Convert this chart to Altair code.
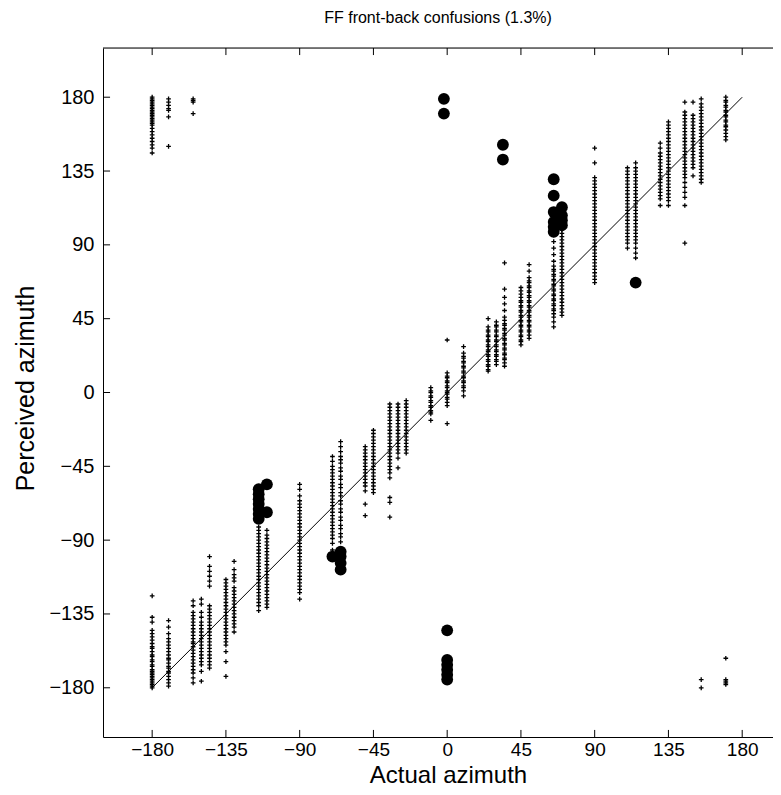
import altair as alt
import pandas as pd

# ---- data ----
tick_vals = [-180, -135, -90, -45, 0, 45, 90, 135, 180]

az_m180 = [-124, -137, -140, -145, -147, -149, -151, -153, -155, -156, -158, -160, -161, -163, -164, -166, -167,
           -169, -170, -171, -172, -173, -174, -175, -176, -177, -178, -179, -180,
           180, 179, 178, 177, 176, 175, 174, 173, 172, 171, 170, 169, 168, 167, 166, 165, 164, 163, 161, 159,
           157, 155, 153, 151, 149, 146]
az_m170 = [-139, -143, -147, -150, -152, -154, -156, -158, -160, -162, -163, -165, -167, -168, -170, -171, -173,
           -175, -177, -179, 179, 177, 175, 173, 172, 168, 150]
az_m155 = [-127, -130, -134, -136, -138, -140, -142, -144, -146, -148, -150, -152, -153, -155, -157, -159, -161,
           -163, -165, -167, -169, -171, -174, -177, 179, 178, 177, 170]
az_m150 = [-126, -129, -134, -137, -140, -142, -144, -146, -148, -150, -152, -154, -156, -158, -160, -162, -164,
           -166, -170, -176]
az_m145 = [-100, -106, -109, -112, -115, -118, -130, -132, -134, -136, -138, -140, -142, -144, -146, -148, -150,
           -152, -154, -156, -158, -160, -162, -164, -166, -168]
az_m135 = [-114, -116, -118, -120, -122, -124, -126, -128, -130, -132, -134, -136, -138, -140, -142, -144, -146,
           -148, -150, -152, -154, -158, -164, -173]
az_m130 = [-103, -108, -111, -113, -115, -119, -121, -123, -125, -127, -129, -131, -133, -135, -137, -139, -141,
           -143, -146]
az_m115 = [-82, -84, -86, -88, -90, -92, -94, -96, -98, -100, -102, -104, -106, -108, -110, -112, -114, -116,
           -118, -120, -122, -124, -126, -128, -130, -133]
az_m110 = [-84, -87, -89, -91, -93, -95, -97, -99, -101, -103, -105, -107, -109, -111, -113, -115, -117, -119,
           -121, -123, -125, -127, -129, -131]
az_m90 = [-56, -59, -63, -66, -68, -70, -72, -74, -76, -78, -80, -82, -84, -86, -88, -90, -92, -94, -96, -98,
          -100, -102, -104, -106, -108, -110, -112, -114, -116, -118, -120, -122, -126]
az_m70 = [-39, -42, -45, -47, -49, -51, -53, -55, -57, -59, -61, -63, -65, -67, -69, -71, -73, -75, -77, -79,
          -81, -83, -85, -87, -89, -92, -96]
az_m65 = [-30, -33, -36, -39, -41, -43, -46, -48, -51, -53, -56, -58, -61, -63, -66, -68, -71, -73, -76, -78,
          -81, -83, -86, -88, -91]
az_m50 = [-33, -35, -37, -39, -41, -43, -45, -47, -49, -51, -53, -55, -57, -60, -68, -75]
az_m45 = [-23, -25, -27, -29, -31, -33, -35, -37, -39, -41, -43, -45, -47, -49, -51, -53, -55, -57, -59, -61]
az_m35 = [-7, -9, -11, -13, -15, -17, -19, -21, -23, -25, -27, -29, -31, -33, -35, -37, -39, -41, -43, -45,
          -47, -49, -52, -64, -67, -76]
az_m30 = [-7, -9, -11, -13, -15, -17, -19, -21, -23, -25, -27, -29, -31, -33, -35, -37, -40, -46]
az_m25 = [-5, -7, -9, -11, -13, -15, -17, -19, -21, -23, -25, -27, -29, -31, -33, -35, -37]
az_m10 = [3, 1, 0, -2, -3, -5, -6, -8, -9, -11, -12, -13, -17]
az_0 = [32, 12, 10, 9, 7, 6, 4, 3, 1, 0, -1, -3, -4, -6, -8, -19]
az_10 = [28, 24, 22, 21, 19, 18, 16, 15, 13, 12, 10, 9, 7, 6, 4, 3, 1, -2]
az_25 = [45, 40, 38, 37, 35, 34, 32, 31, 29, 28, 26, 25, 23, 22, 20, 19, 17, 16, 14, 13]
az_30 = [43, 41, 40, 38, 37, 35, 34, 32, 31, 29, 28, 26, 25, 23, 22, 20, 19, 17]
az_35 = [79, 63, 58, 54, 50, 46, 44, 42, 41, 39, 38, 36, 35, 33, 32, 30, 29, 27, 26, 24, 23, 21, 20, 18, 16]
az_45 = [64, 62, 60, 58, 56, 55, 53, 52, 50, 49, 47, 46, 44, 43, 41, 40, 38, 37, 35, 34, 32, 31, 29]
az_50 = [78, 74, 70, 68, 67, 65, 64, 62, 61, 59, 58, 56, 55, 53, 52, 50, 49, 47, 46, 44, 43, 41, 40, 38, 37,
         35, 33]
az_65 = [96, 92, 88, 84, 80, 77, 75, 74, 72, 71, 69, 68, 66, 65, 63, 62, 60, 59, 57, 56, 54, 53, 51, 50, 48,
         46, 43, 40]
az_70 = [99, 97, 95, 93, 91, 89, 87, 85, 83, 81, 79, 77, 75, 73, 71, 69, 67, 65, 63, 61, 59, 57, 55, 53, 51,
         49, 47]
az_90 = [149, 140, 131, 129, 127, 125, 123, 121, 119, 117, 115, 113, 111, 109, 107, 105, 103, 101, 99, 97, 95,
         93, 91, 89, 87, 85, 83, 81, 79, 77, 75, 73, 71, 69, 67]
az_110 = [137, 135, 133, 131, 129, 127, 125, 123, 121, 119, 117, 115, 113, 111, 109, 107, 105, 103, 101, 99,
          97, 95, 93, 91, 88]
az_115 = [140, 137, 135, 133, 131, 129, 127, 125, 123, 121, 119, 117, 115, 113, 111, 109, 107, 105, 103, 101,
          99, 97, 95, 93, 91, 88, 85, 82]
az_130 = [152, 149, 146, 144, 142, 140, 138, 136, 134, 132, 130, 128, 126, 124, 122, 120, 118, 114]
az_135 = [165, 163, 161, 159, 157, 155, 153, 151, 149, 147, 145, 143, 141, 139, 137, 135, 133, 131, 129, 127,
          125, 123, 121, 119, 117, 114]
az_145 = [177, 171, 169, 167, 165, 163, 161, 159, 157, 155, 153, 151, 149, 147, 145, 143, 141, 139, 137, 135,
          133, 131, 128, 125, 122, 119, 114, 91]
az_150 = [177, 169, 167, 165, 163, 161, 159, 157, 155, 153, 151, 149, 147, 145, 143, 141, 139, 137, 132]
az_155 = [179, 176, 174, 172, 170, 168, 166, 164, 162, 160, 158, 156, 154, 152, 150, 148, 146, 144, 142, 140,
          138, 136, 134, 132, 130, 128, -175, -180]
az_170 = [180, 178, 177, 175, 174, 172, 171, 169, 168, 166, 165, 163, 162, 160, 158, 156, 154, -162, -175,
          -176, -177, -178]

# front-back confusions (big dots)
conf_actual = [-2, -2, 34, 34, 65, 65, 65, 65, 65, 65, 70, 70, 70, 70, 115,
               -115, -115, -115, -115, -115, -115, -115, -110, -110,
               -70, -65, -65, -65, -65, 0, 0, 0, 0, 0, 0]
conf_perceived = [179, 170, 151, 142, 130, 120, 110, 104, 101, 98, 113, 108, 105, 102, 67,
                  -59, -62, -65, -68, -71, -74, -77, -56, -73,
                  -100, -97, -100, -104, -108, -145, -163, -166, -169, -172, -175]

# reference diagonal (perceived = actual)
diag_x = [-180, 180]
diag_y = [-180, 180]

# ---- build tables ----
columns = [(-180, az_m180), (-170, az_m170), (-155, az_m155), (-150, az_m150), (-145, az_m145),
           (-135, az_m135), (-130, az_m130), (-115, az_m115), (-110, az_m110), (-90, az_m90),
           (-70, az_m70), (-65, az_m65), (-50, az_m50), (-45, az_m45), (-35, az_m35), (-30, az_m30),
           (-25, az_m25), (-10, az_m10), (0, az_0), (10, az_10), (25, az_25), (30, az_30), (35, az_35),
           (45, az_45), (50, az_50), (65, az_65), (70, az_70), (90, az_90), (110, az_110), (115, az_115),
           (130, az_130), (135, az_135), (145, az_145), (150, az_150), (155, az_155), (170, az_170)]
pts_df = pd.DataFrame([{"actual": a, "perceived": p} for a, vals in columns for p in vals])
conf_df = pd.DataFrame({"actual": conf_actual, "perceived": conf_perceived})
diag_df = pd.DataFrame({"actual": diag_x, "perceived": diag_y})
xt_df = pd.DataFrame({"actual": tick_vals})
yt_df = pd.DataFrame({"perceived": tick_vals})
one_df = pd.DataFrame({"k": [0]})

FONT = "Liberation Sans"
xs = alt.Scale(domain=[-210, 198.8], nice=False, zero=False)
ys = alt.Scale(domain=[-210, 210], nice=False, zero=False)

x_axis = alt.Axis(values=tick_vals, title="Actual azimuth", ticks=False, grid=False, domain=True,
                  domainColor="black", domainWidth=1, labelFontSize=19, labelFont=FONT, labelColor="black",
                  labelPadding=3, labelFlush=False, titleFont=FONT, titleFontSize=24, titleFontWeight="normal",
                  titleColor="black", titleX=345, titleY=50, titleBaseline="bottom")
y_axis = alt.Axis(values=tick_vals, title="Perceived azimuth", ticks=False, grid=False, domain=True,
                  domainColor="black", domainWidth=1, labelFontSize=20, labelFont=FONT, labelColor="black",
                  labelPadding=9, labelFlush=False, titleFont=FONT, titleFontSize=25, titleFontWeight="normal",
                  titleColor="black", titleX=-70, titleY=340, titleAngle=-90, titleBaseline="alphabetic",
                  titleAlign="center")

X = alt.X("actual:Q", scale=xs, axis=x_axis)
Y = alt.Y("perceived:Q", scale=ys, axis=y_axis)

plus = alt.Chart(pts_df).mark_point(shape="M-1,0H1M0,-1V1", size=22, filled=False, stroke="black",
                                    strokeWidth=1.3, opacity=1).encode(x=X, y=Y)
dots = alt.Chart(conf_df).mark_circle(size=140, color="black", opacity=1).encode(x=X, y=Y)
diag = alt.Chart(diag_df).mark_line(color="black", strokeWidth=1).encode(x=X, y=Y)

bottom_ticks = alt.Chart(xt_df).mark_rule(color="black", strokeWidth=1).encode(
    x=X, y=alt.datum(-210), y2=alt.datum(-205.7))
top_ticks = alt.Chart(xt_df).mark_rule(color="black", strokeWidth=1).encode(
    x=X, y=alt.datum(210), y2=alt.datum(205.7))
left_ticks = alt.Chart(yt_df).mark_rule(color="black", strokeWidth=1).encode(
    y=Y, x=alt.datum(-210), x2=alt.datum(-205.7))
top_border = alt.Chart(one_df).mark_rule(color="black", strokeWidth=1).encode(y=alt.datum(210))

chart = alt.layer(diag, plus, dots, bottom_ticks, top_ticks, left_ticks, top_border).properties(
    width=670, height=689,
    padding={"left": 95, "top": 40, "right": 0, "bottom": 50},
    autosize=alt.AutoSizeParams(type="none"),
    title=alt.Title("FF front-back confusions (1.3%)", fontSize=16, font=FONT, fontWeight="normal",
                    color="black", anchor="middle", offset=22),
).configure_view(stroke=None).configure(background="white")

chart.save("out.html", embed_options={"renderer": "svg", "actions": False})
